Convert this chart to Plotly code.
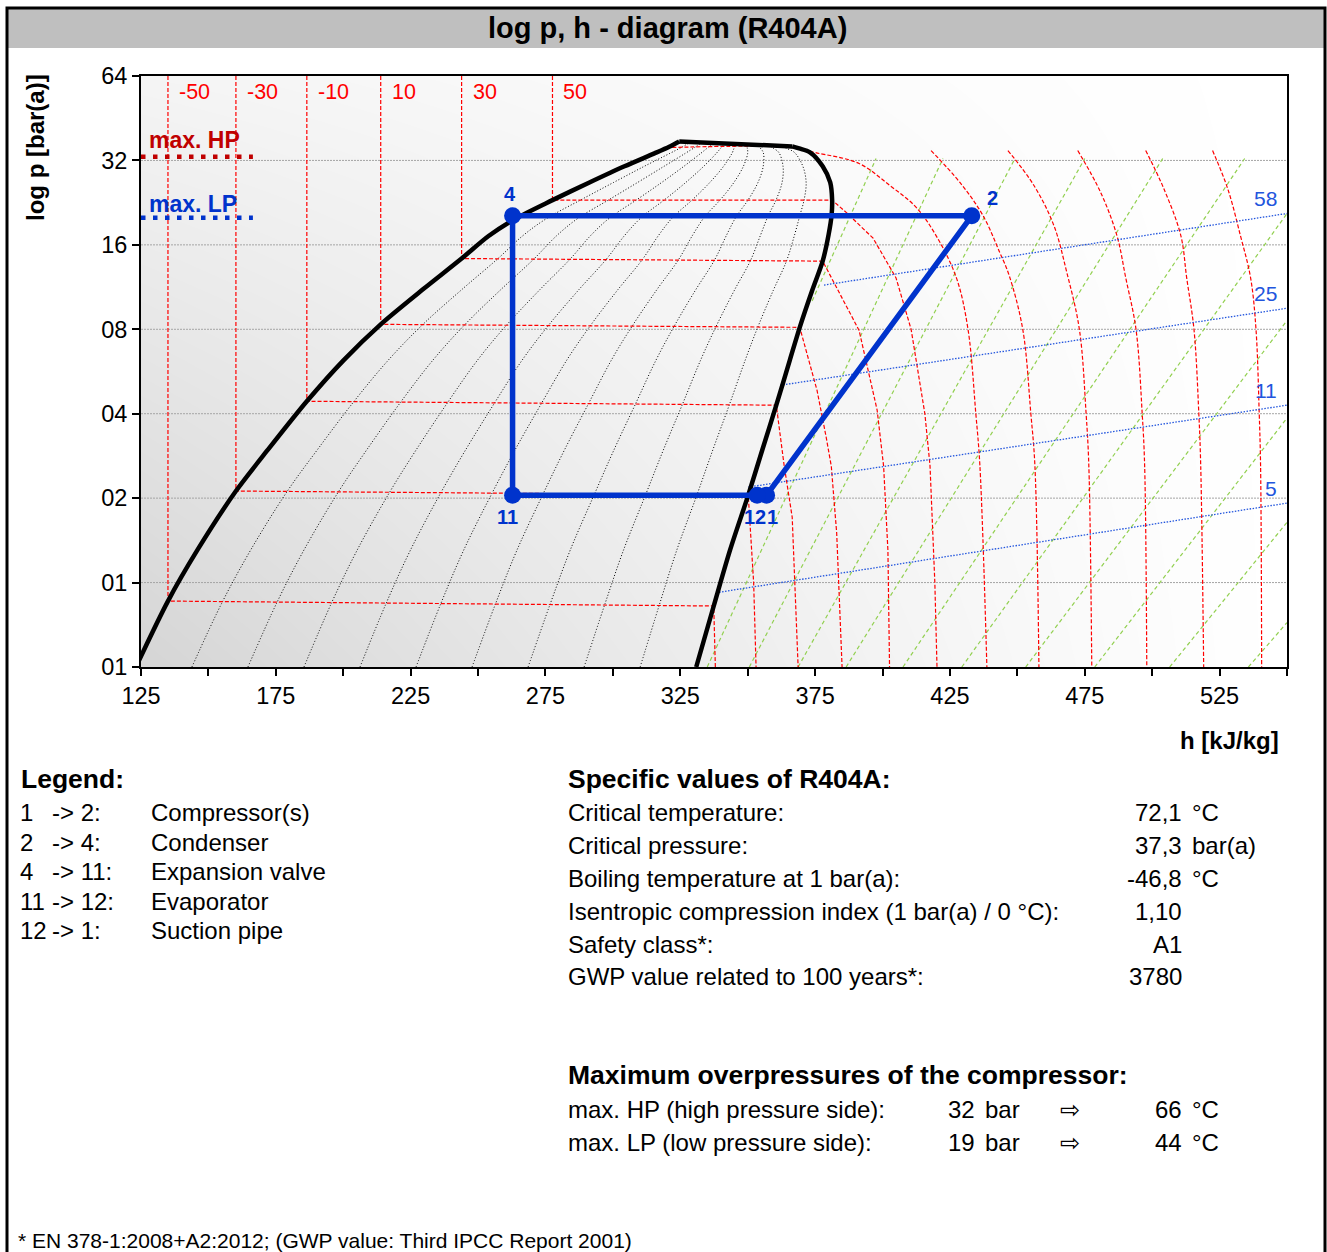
import numpy as np
import plotly.graph_objects as go

FONT = "Liberation Sans, Arial, DejaVu Sans, sans-serif"

# ---------------- axes ----------------
H_RANGE = [125, 550]
P_RANGE = [0.5, 64]
x_tick_vals = list(range(125, 551, 25))
x_tick_text = ["125", "", "175", "", "225", "", "275", "", "325", "", "375", "", "425", "", "475", "", "525", "", ""]
y_tick_vals = [0.5, 1, 2, 4, 8, 16, 32, 64]
y_tick_text = ["01", "01", "02", "04", "08", "16", "32", "64"]
grid_p = [1, 2, 4, 8, 16, 32]

# ---------------- saturation rows (liquid / vapour) ----------------
sat_liq_h = [123.1, 135.0, 146.0, 160.2, 172.0, 186.5, 200.1, 213.9, 229.8, 243.9, 253.9, 263.3, 277.6, 291.3, 304.3, 315.4, 320.9, 324.6]
sat_liq_p = [0.50, 0.859, 1.31, 2.12, 2.97, 4.43, 6.2, 8.33, 11.15, 14.3, 17.2, 19.7, 23.1, 26.7, 30.5, 33.9, 35.8, 37.4]
sat_vap_h = [330.9, 337.4, 343.5, 350.2, 355.4, 360.6, 365.6, 369.3, 373.9, 377.8, 380.0, 381.1, 381.3, 380.6, 377.8, 373.1, 369.1, 366.5]
sat_vap_p = [0.50, 0.825, 1.31, 2.05, 2.97, 4.29, 6.2, 8.13, 11.0, 14.0, 17.4, 20.4, 23.2, 26.7, 30.5, 34.2, 35.3, 35.9]
quality_levels = [0.1, 0.2, 0.3, 0.4, 0.5, 0.6, 0.7, 0.8, 0.9]

# ---------------- isotherms ----------------
iso_labels = ["-50", "-30", "-10", "10", "30", "50"]
iso_m50_h = [135.0, 135.0, 337.4, 338.0]
iso_m50_p = [64, 0.859, 0.825, 0.5]
iso_m30_h = [160.2, 160.2, 350.2, 352.2, 353.1]
iso_m30_p = [64, 2.12, 2.05, 1.0, 0.5]
iso_m10_h = [186.5, 186.5, 360.6, 363.5, 366.5, 368.7]
iso_m10_p = [64, 4.43, 4.29, 2.62, 1.71, 0.5]
iso_10_h = [213.9, 213.9, 369.3, 375.7, 379.1, 381.0, 383.0, 385.0]
iso_10_p = [64, 8.33, 8.13, 4.85, 3.30, 2.6, 1.5, 0.5]
iso_30_h = [243.9, 243.9, 377.8, 391.3, 398.0, 400.4, 402.0, 402.6]
iso_30_p = [64, 14.3, 14.0, 7.93, 4.12, 2.6, 1.3, 0.5]
iso_50_h = [277.6, 277.6, 381.3, 386.5, 396.5, 405.0, 410.6, 415.7, 417.6, 419.4, 420.2]
iso_50_p = [64, 23.1, 23.1, 20.9, 16.9, 12.2, 8.0, 4.0, 2.62, 1.0, 0.5]
iso_70_h = [322.0, 365.4, 375.2, 391.3, 402.6, 412.4, 419.8, 427.4, 431.7, 434.6, 436.1, 438.7]
iso_70_p = [35.6, 35.6, 34.1, 31.2, 26.1, 21.8, 17.3, 12.2, 8.0, 4.0, 2.62, 0.5]
iso_90_h = [418.0, 428.7, 437.2, 443.5, 446.9, 452.0, 455.0, 456.5, 458.0]
iso_90_p = [34.7, 26.7, 20.4, 15.0, 12.5, 8.0, 4.0, 2.62, 0.5]
iso_110_h = [446.5, 456.1, 463.5, 468.3, 473.0, 475.5, 476.5, 477.6]
iso_110_p = [34.7, 26.1, 18.8, 12.8, 8.0, 4.0, 2.62, 0.5]
iso_130_h = [472.4, 480.9, 486.9, 490.2, 494.0, 496.3, 497.2, 498.0]
iso_130_p = [34.7, 24.6, 17.3, 12.2, 8.0, 4.0, 2.62, 0.5]
iso_150_h = [497.6, 504.3, 510.6, 512.8, 515.5, 517.3, 518.0, 519.1]
iso_150_p = [34.7, 25.4, 17.3, 12.2, 8.0, 4.0, 2.62, 0.5]
iso_170_h = [522.4, 528.0, 532.7, 536.5, 538.5, 539.7, 540.2, 540.6]
iso_170_p = [34.7, 25.4, 17.3, 12.2, 8.0, 4.0, 2.62, 0.5]

# ---------------- isentropes (start / end) ----------------
isen_h0 = [373.9, 335.0, 350.6, 368.7, 386.5, 407.6, 429.4, 453.1, 478.7, 506.5, 535.7]
isen_p0 = [10.1, 0.5, 0.5, 0.5, 0.5, 0.5, 0.5, 0.5, 0.5, 0.5, 0.5]
isen_h1 = [397.6, 422.4, 449.1, 475.0, 503.9, 534.3, 550, 550, 550, 550, 550]
isen_p1 = [32.5, 32.5, 32.5, 32.5, 32.5, 32.5, 20.7, 8.6, 3.86, 1.64, 0.72]

# ---------------- isochores (density, kg/m3) ----------------
dens_labels = ["58", "25", "11", "5"]
dens_h0 = [378.3, 362.0, 350.2, 338.3]
dens_p0 = [11.5, 5.05, 2.19, 0.92]
dens_h1 = [550, 550, 550, 550]
dens_p1 = [20.7, 9.51, 4.29, 1.92]

# ---------------- cycle ----------------
cyc_names = ["1", "2", "4", "11", "12"]
cyc_h = [357.0, 433.1, 262.8, 262.8, 353.5]
cyc_p = [2.05, 20.3, 20.3, 2.05, 2.05]
cyc_order = [0, 1, 2, 3, 4, 0]

# ---------------- compressor limits (overpressure, bar) ----------------
max_hp_bar = 32
max_lp_bar = 19
limit_h = [125, 166.5]

# ---------------- texts ----------------
legend_num = ["1", "2", "4", "11", "12"]
legend_to = ["-> 2:", "-> 4:", "-> 11:", "-> 12:", "-> 1:"]
legend_desc = ["Compressor(s)", "Condenser", "Expansion valve", "Evaporator", "Suction pipe"]
spec_labels = ["Critical temperature:", "Critical pressure:", "Boiling temperature at 1 bar(a):",
               "Isentropic compression index (1 bar(a) / 0 °C):", "Safety class*:", "GWP value related to 100 years*:"]
spec_values = ["72,1", "37,3", "-46,8", "1,10", "A1", "3780"]
spec_units = ["°C", "bar(a)", "°C", "", "", ""]
op_labels = ["max. HP (high pressure side):", "max. LP (low pressure side):"]
op_bar = ["32", "19"]
op_temp = ["66", "44"]

# =====================================================================
W, Hh = 1327, 1252
L, R, T, B = 141, 40, 76, 585
PW, PH = W - L - R, Hh - T - B


def pxx(px):
    return (px - L) / PW


def pxy(py):
    return (Hh - B - py) / PH


fig = go.Figure()

# background gradient
gx = np.linspace(H_RANGE[0], H_RANGE[1], 60)
gy = np.logspace(np.log10(P_RANGE[0]), np.log10(P_RANGE[1]), 30)
GX, GY = np.meshgrid(gx, gy)
xf = (GX - H_RANGE[0]) / (H_RANGE[1] - H_RANGE[0])
yf = (np.log(P_RANGE[1]) - np.log(GY)) / (np.log(P_RANGE[1]) - np.log(P_RANGE[0]))
gz = 255 - 42 * (1 - xf) ** 1.2 * (0.25 + 0.75 * yf)
fig.add_trace(go.Heatmap(x=gx, y=gy, z=gz, zmin=0, zmax=255, zsmooth="best",
                         colorscale=[[0, "rgb(0,0,0)"], [1, "rgb(255,255,255)"]],
                         showscale=False, hoverinfo="skip"))

# gridlines
for gp in grid_p:
    fig.add_trace(go.Scatter(x=H_RANGE, y=[gp, gp], mode="lines",
                             line=dict(color="rgb(165,165,165)", width=1, dash="2px,1px"),
                             hoverinfo="skip", showlegend=False))

# quality lines
lh, lp, vh, vp = map(np.array, (sat_liq_h, sat_liq_p, sat_vap_h, sat_vap_p))
for q in quality_levels:
    qh = lh + q * (vh - lh)
    qp = np.exp(np.log(lp) + q * (np.log(vp) - np.log(lp)))
    fig.add_trace(go.Scatter(x=qh, y=qp, mode="lines", line_shape="spline",
                             line=dict(color="black", width=1, dash="1px,2px"),
                             hoverinfo="skip", showlegend=False))

# isentropes
for a, b, c, d in zip(isen_h0, isen_p0, isen_h1, isen_p1):
    fig.add_trace(go.Scatter(x=[a, c], y=[b, d], mode="lines",
                             line=dict(color="#92d050", width=1.2, dash="4px,3px"),
                             hoverinfo="skip", showlegend=False))

# isotherms
iso_all = [(iso_m50_h, iso_m50_p), (iso_m30_h, iso_m30_p), (iso_m10_h, iso_m10_p),
           (iso_10_h, iso_10_p), (iso_30_h, iso_30_p), (iso_50_h, iso_50_p),
           (iso_70_h, iso_70_p), (iso_90_h, iso_90_p), (iso_110_h, iso_110_p),
           (iso_130_h, iso_130_p), (iso_150_h, iso_150_p), (iso_170_h, iso_170_p)]
for k, (ih, ip) in enumerate(iso_all):
    fig.add_trace(go.Scatter(x=ih, y=ip, mode="lines", line_shape="spline" if k >= 6 else "linear",
                             line=dict(color="#ff0000", width=1.2, dash="4px,2px"),
                             hoverinfo="skip", showlegend=False))

# isochores
for a, b, c, d in zip(dens_h0, dens_p0, dens_h1, dens_p1):
    fig.add_trace(go.Scatter(x=[a, c], y=[b, d], mode="lines",
                             line=dict(color="#2255dd", width=1.3, dash="1.5px,1.5px"),
                             hoverinfo="skip", showlegend=False))

# saturation dome (liquid branch, top, vapour branch)
fig.add_trace(go.Scatter(x=sat_liq_h, y=sat_liq_p, mode="lines", line_shape="spline",
                         line=dict(color="black", width=4.5, smoothing=0.8),
                         hoverinfo="skip", showlegend=False))
fig.add_trace(go.Scatter(x=[sat_liq_h[-1], sat_vap_h[-1]], y=[sat_liq_p[-1], sat_vap_p[-1]], mode="lines",
                         line=dict(color="black", width=4.5),
                         hoverinfo="skip", showlegend=False))
fig.add_trace(go.Scatter(x=sat_vap_h, y=sat_vap_p, mode="lines", line_shape="spline",
                         line=dict(color="black", width=4.5, smoothing=0.8),
                         hoverinfo="skip", showlegend=False))

# compressor limits
fig.add_trace(go.Scatter(x=limit_h, y=[max_hp_bar + 1] * 2, mode="lines",
                         line=dict(color="#c00000", width=4.5, dash="4.5px,7.5px"),
                         hoverinfo="skip", showlegend=False))
fig.add_trace(go.Scatter(x=limit_h, y=[max_lp_bar + 1] * 2, mode="lines",
                         line=dict(color="#0033cc", width=4.5, dash="4.5px,7.5px"),
                         hoverinfo="skip", showlegend=False))

# cycle
fig.add_trace(go.Scatter(x=[cyc_h[i] for i in cyc_order], y=[cyc_p[i] for i in cyc_order],
                         mode="lines", line=dict(color="#0033cc", width=5.5),
                         hoverinfo="skip", showlegend=False))
fig.add_trace(go.Scatter(x=cyc_h, y=cyc_p, mode="markers",
                         marker=dict(color="#0033cc", size=17),
                         hoverinfo="skip", showlegend=False))


# ---------------- annotations ----------------
def ann(text, x, y, size, color="black", bold=False, xanchor="left", xref="paper", yref="paper",
        xshift=0, yshift=0, textangle=0, yanchor="middle"):
    fig.add_annotation(x=x, y=y, xref=xref, yref=yref, text=f"<b>{text}</b>" if bold else text,
                       showarrow=False, xanchor=xanchor, yanchor=yanchor, xshift=xshift, yshift=yshift,
                       textangle=textangle, font=dict(family=FONT, size=size, color=color))


# cycle labels
cyc_shift = {"1": (6, -22), "2": (21, 18), "4": (-3, 22), "11": (-5, -22), "12": (-2, -22)}
for n, h, p in zip(cyc_names, cyc_h, cyc_p):
    dx, dy = cyc_shift[n]
    ann(n, h, np.log10(p), 20, color="#0033cc", bold=True, xanchor="center", xref="x", yref="y",
        xshift=dx, yshift=dy)

# isotherm labels at top
for lab, ih in zip(iso_labels, iso_all[:6]):
    ann(lab, ih[0][0], np.log10(56), 21.5, color="#ff0000", xref="x", yref="y", xshift=9)

# density labels
for lab, c, d in zip(dens_labels, dens_h1, dens_p1):
    ann(lab, c, np.log10(d), 21, color="#2255dd", xanchor="right", xref="x", yref="y", xshift=-8, yshift=15)

# limits labels
ann("max. HP", pxx(147), pxy(140), 23, color="#c00000", bold=True)
ann("max. LP", pxx(147), pxy(204), 23, color="#0033cc", bold=True)

# titles
ann("log p, h - diagram (R404A)", pxx(667), pxy(28), 29, bold=True, xanchor="center")
ann("log p [bar(a)]", pxx(35), pxy(148), 24, bold=True, xanchor="center", textangle=-90)
ann("h [kJ/kg]", pxx(1281), pxy(740), 24, bold=True, xanchor="right")

# legend block
ann("Legend:", pxx(19), pxy(779), 26.5, bold=True)
leg_y = [812, 842, 871, 901, 930]
for n, t, d, y in zip(legend_num, legend_to, legend_desc, leg_y):
    ann(n, pxx(18), pxy(y), 24)
    ann(t, pxx(50), pxy(y), 24)
    ann(d, pxx(149), pxy(y), 24)

# specific values
ann("Specific values of R404A:", pxx(566), pxy(779), 26.5, bold=True)
spec_y = [812, 845, 878, 911, 944, 977]
for lab, v, u, y in zip(spec_labels, spec_values, spec_units, spec_y):
    ann(lab, pxx(566), pxy(y), 24)
    ann(v, pxx(1184), pxy(y), 24, xanchor="right")
    if u:
        ann(u, pxx(1190), pxy(y), 24)

# overpressures
ann("Maximum overpressures of the compressor:", pxx(566), pxy(1075), 26.5, bold=True)
op_y = [1109, 1142]
for lab, bv, tv, y in zip(op_labels, op_bar, op_temp, op_y):
    ann(lab, pxx(566), pxy(y), 24)
    ann(bv, pxx(977), pxy(y), 24, xanchor="right")
    ann("bar", pxx(983), pxy(y), 24)
    ann("⇨", pxx(1058), pxy(y), 24)
    ann(tv, pxx(1184), pxy(y), 24, xanchor="right")
    ann("°C", pxx(1190), pxy(y), 24)

ann("* EN 378-1:2008+A2:2012; (GWP value: Third IPCC Report 2001)", pxx(16), pxy(1240), 21, yanchor="middle")

# frame + title band
fig.add_shape(type="rect", xref="paper", yref="paper", x0=pxx(8), x1=pxx(1325), y0=pxy(48), y1=pxy(9),
              fillcolor="#bfbfbf", line=dict(width=0), layer="below")
fig.add_shape(type="rect", xref="paper", yref="paper", x0=pxx(7), x1=pxx(1325), y0=pxy(1270), y1=pxy(8),
              fillcolor="rgba(0,0,0,0)", line=dict(color="black", width=3), layer="above")

fig.update_layout(
    width=W, height=Hh,
    margin=dict(l=L, r=R, t=T, b=B, autoexpand=False),
    paper_bgcolor="white", plot_bgcolor="white",
    showlegend=False,
    xaxis=dict(range=H_RANGE, tickvals=x_tick_vals, ticktext=x_tick_text, ticks="outside", ticklen=7,
               tickwidth=1.5, tickcolor="black", showline=True, linecolor="black", linewidth=2, mirror=True,
               showgrid=False, zeroline=False, tickfont=dict(family=FONT, size=23.5, color="black")),
    yaxis=dict(type="log", range=[np.log10(P_RANGE[0]), np.log10(P_RANGE[1])], tickvals=y_tick_vals,
               ticktext=y_tick_text, ticks="outside", ticklen=7, tickwidth=1.5, tickcolor="black",
               showline=True, linecolor="black", linewidth=2, mirror=True, showgrid=False, zeroline=False,
               tickfont=dict(family=FONT, size=23.5, color="black")),
)

fig.write_html("out.html", config={"displayModeBar": False},
               post_script="document.body.style.margin='0px';")
